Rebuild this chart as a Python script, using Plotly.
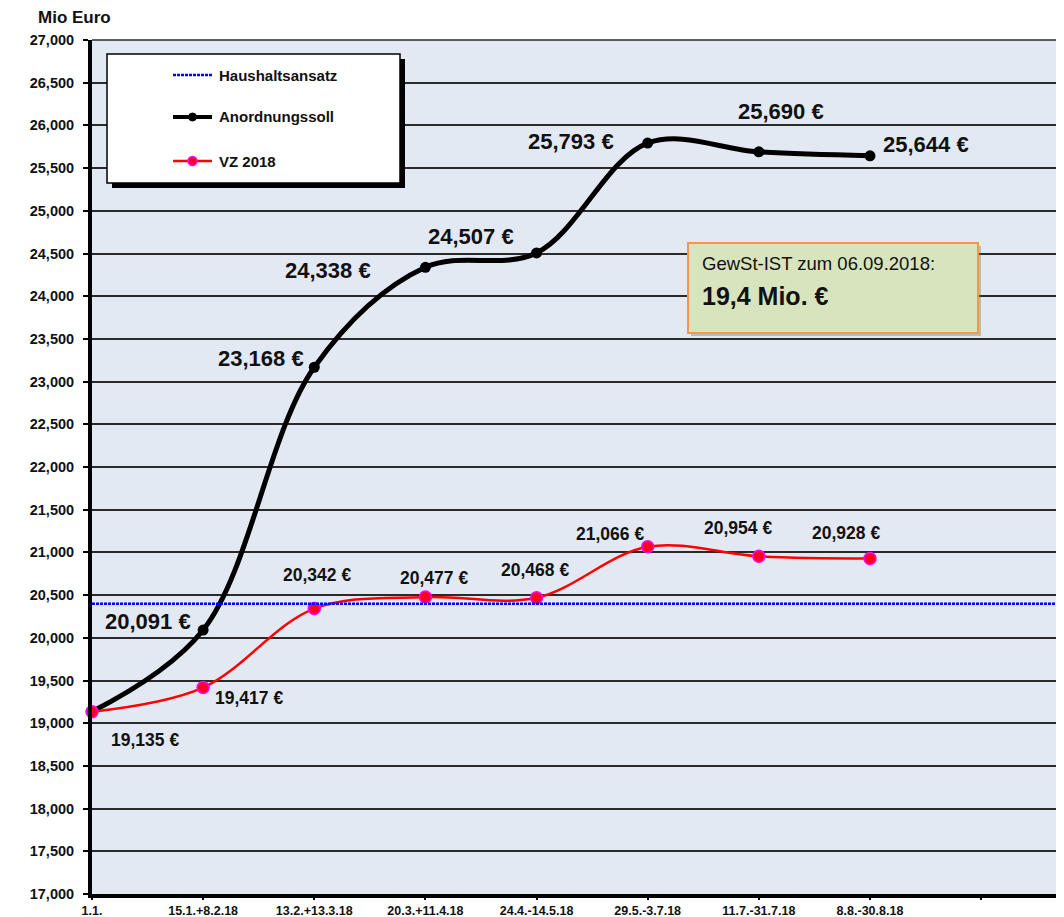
import plotly.graph_objects as go

# ---------------- data ----------------
categories = ["1.1.", "15.1.+8.2.18", "13.2.+13.3.18", "20.3.+11.4.18",
              "24.4.-14.5.18", "29.5.-3.7.18", "11.7.-31.7.18", "8.8.-30.8.18"]
anordnungssoll = [19.135, 20.091, 23.168, 24.338, 24.507, 25.793, 25.690, 25.644]
vz_2018 = [19.135, 19.417, 20.342, 20.477, 20.468, 21.066, 20.954, 20.928]
haushaltsansatz = 20.4
series_names = ["Haushaltsansatz", "Anordnungssoll", "VZ 2018"]
y_title = "Mio Euro"
info_line1 = "GewSt-IST zum 06.09.2018:"
info_line2 = "19,4 Mio. €"

# ---------------- layout constants ----------------
# page body has an 8px default margin; compensate so the plot lands where the reference has it
BODY = 8
W, H = 1064 - BODY, 917 - BODY
PL, PT, PB = 92, 40, 894          # plot area edges in page pixels
L, T = PL - BODY, PT - BODY
PW = W - L
PH = PB - PT
B = H - (PB - BODY)
FONT = "Liberation Sans, Arial, sans-serif"
TXT = "#111111"

def px(x):
    return (x - PL) / PW

def py(y):
    return (PB - y) / PH

idx = list(range(len(categories)))
x_max = PW / 111.14  # category spacing ~111 px

# label offsets (pixels) relative to the data point
black_label_offsets = [None, (-55, 9), (-53, 9), (-97, -3), (-66, 16), (-77, 2), (22, 40), (56, 11)]
red_label_offsets = [(53, -28), (46, -10), (3, 34), (9, 19), (-2, 28), (-38, 13), (-21, 28), (-24, 26)]

def fmt(v):
    return f"{v:.3f}".replace(".", ",") + " €"

fig = go.Figure()

fig.add_trace(go.Scatter(
    x=idx, y=anordnungssoll, mode="lines+markers", name=series_names[1],
    line=dict(color="#000000", width=5, shape="spline", smoothing=1),
    marker=dict(color="#000000", size=11, symbol="circle"),
    cliponaxis=False, showlegend=False))

fig.add_trace(go.Scatter(
    x=idx, y=vz_2018, mode="lines+markers", name=series_names[2],
    line=dict(color="#FF0000", width=2.5, shape="spline", smoothing=1),
    marker=dict(color="#FF0022", size=12, symbol="circle",
                line=dict(color="#FF00FF", width=1.5)),
    cliponaxis=False, showlegend=False))

shapes = []
annotations = []

# Haushaltsansatz line
shapes.append(dict(type="line", xref="paper", yref="y", x0=0, x1=1,
                   y0=haushaltsansatz, y1=haushaltsansatz,
                   line=dict(color="#0000FF", width=2.5, dash="3px,1px"), layer="above"))

# data labels
for i, v in enumerate(anordnungssoll):
    off = black_label_offsets[i]
    if off is None:
        continue
    annotations.append(dict(x=idx[i], y=v, xref="x", yref="y", text=f"<b>{fmt(v)}</b>",
                            showarrow=False, xshift=off[0], yshift=off[1],
                            xanchor="center", yanchor="middle",
                            font=dict(family=FONT, size=22, color=TXT)))
for i, v in enumerate(vz_2018):
    off = red_label_offsets[i]
    annotations.append(dict(x=idx[i], y=v, xref="x", yref="y", text=f"<b>{fmt(v)}</b>",
                            showarrow=False, xshift=off[0], yshift=off[1],
                            xanchor="center", yanchor="middle",
                            font=dict(family=FONT, size=17.5, color=TXT)))

# legend box
shapes.append(dict(type="rect", xref="paper", yref="paper", x0=px(112), x1=px(405),
                   y0=py(188), y1=py(59), fillcolor="#000000", line=dict(width=0), layer="above"))
shapes.append(dict(type="rect", xref="paper", yref="paper", x0=px(107), x1=px(400),
                   y0=py(183), y1=py(54), fillcolor="#FFFFFF",
                   line=dict(color="#000000", width=1.5), layer="above"))
leg_y = [75, 117, 161]
# Haushaltsansatz sample
shapes.append(dict(type="line", xref="paper", yref="paper", x0=px(173), x1=px(212),
                   y0=py(leg_y[0]), y1=py(leg_y[0]),
                   line=dict(color="#0000FF", width=2.5, dash="3px,1px"), layer="above"))
# Anordnungssoll sample
shapes.append(dict(type="line", xref="paper", yref="paper", x0=px(173), x1=px(212),
                   y0=py(leg_y[1]), y1=py(leg_y[1]),
                   line=dict(color="#000000", width=4), layer="above"))
shapes.append(dict(type="circle", xref="paper", yref="paper", x0=px(188.5), x1=px(196.5),
                   y0=py(leg_y[1] + 4), y1=py(leg_y[1] - 4), fillcolor="#000000",
                   line=dict(color="#000000", width=1), layer="above"))
# VZ 2018 sample
shapes.append(dict(type="line", xref="paper", yref="paper", x0=px(173), x1=px(212),
                   y0=py(leg_y[2]), y1=py(leg_y[2]),
                   line=dict(color="#FF0000", width=2.5), layer="above"))
shapes.append(dict(type="circle", xref="paper", yref="paper", x0=px(188), x1=px(197),
                   y0=py(leg_y[2] + 4.5), y1=py(leg_y[2] - 4.5), fillcolor="#FF0022",
                   line=dict(color="#FF00FF", width=1.5), layer="above"))
for name, yy in zip(series_names, leg_y):
    annotations.append(dict(x=px(217), y=py(yy), xref="paper", yref="paper",
                            text=f"<b>{name}</b>", showarrow=False,
                            xanchor="left", yanchor="middle",
                            font=dict(family=FONT, size=15, color=TXT)))

# info box
shapes.append(dict(type="rect", xref="paper", yref="paper", x0=px(691), x1=px(981),
                   y0=py(336), y1=py(246), fillcolor="rgba(120,120,120,0.4)",
                   line=dict(width=0), layer="above"))
shapes.append(dict(type="rect", xref="paper", yref="paper", x0=px(688), x1=px(978),
                   y0=py(333), y1=py(243), fillcolor="#D7E4BD",
                   line=dict(color="#F79646", width=2), layer="above"))
annotations.append(dict(x=px(700), y=py(264), xref="paper", yref="paper",
                        text=info_line1, showarrow=False, xanchor="left", yanchor="middle",
                        font=dict(family=FONT, size=18.5, color=TXT)))
annotations.append(dict(x=px(700), y=py(296), xref="paper", yref="paper",
                        text=f"<b>{info_line2}</b>", showarrow=False, xanchor="left",
                        yanchor="middle", font=dict(family=FONT, size=25, color=TXT)))

# y title
annotations.append(dict(x=px(36), y=py(18), xref="paper", yref="paper",
                        text=f"<b>{y_title}</b>", showarrow=False, xanchor="left",
                        yanchor="middle", font=dict(family=FONT, size=17, color=TXT)))

# top gridline
shapes.append(dict(type="line", xref="paper", yref="paper", x0=0, x1=1, y0=1, y1=1,
                   line=dict(color="#2a2a2a", width=1.5), layer="below"))

fig.update_layout(
    width=W, height=H,
    margin=dict(l=L, r=0, t=T, b=B, pad=0, autoexpand=False),
    paper_bgcolor="#FFFFFF",
    plot_bgcolor="#E3E9F3",
    separators=",.",
    showlegend=False,
    shapes=shapes,
    annotations=annotations,
    font=dict(family=FONT, color=TXT),
)

fig.update_xaxes(
    range=[0, x_max],
    tickvals=idx + [len(categories)],
    ticktext=categories + [""],
    showgrid=False, zeroline=False,
    showline=True, linecolor="#000000", linewidth=3.5,
    ticks="outside", ticklen=2, tickwidth=2, tickcolor="#000000",
    tickfont=dict(family=FONT, size=12.5, color=TXT, weight="bold"),
)
fig.update_yaxes(
    range=[17, 27], dtick=0.5, tick0=17, tickformat=".3f",
    showgrid=True, gridcolor="#2a2a2a", gridwidth=1.5,
    zeroline=False,
    showline=True, linecolor="#000000", linewidth=4,
    ticks="outside", ticklen=5, tickwidth=2, tickcolor="#000000",
    ticklabelstandoff=6,
    tickfont=dict(family=FONT, size=14.5, color=TXT, weight="bold"),
)

fig.write_html("out.html")
